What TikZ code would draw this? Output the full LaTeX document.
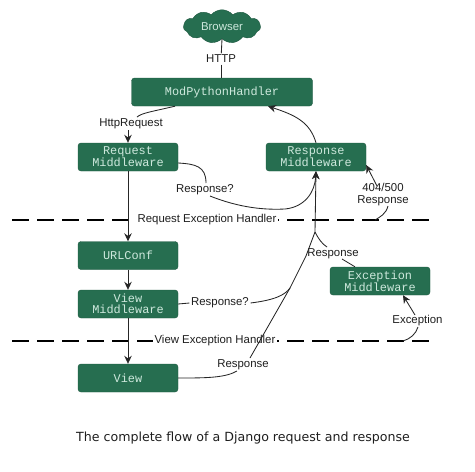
\documentclass[tikz,border=0pt]{standalone}
\usepackage{fontspec}
\setmainfont{Liberation Sans}
\setmonofont{Liberation Mono}
\newfontfamily\captionfont{DejaVu Sans}
\usetikzlibrary{arrows.meta, positioning, shapes.symbols}
\definecolor{boxgreen}{RGB}{38,110,80}
\definecolor{boxedge}{RGB}{30,88,64}
\definecolor{boxtext}{RGB}{205,232,220}
\definecolor{inktext}{RGB}{30,30,30}
\tikzset{
    mwbox/.style={draw=boxedge, fill=boxgreen, rounded corners=3pt, minimum width=100pt, minimum height=28pt, inner sep=0pt, align=center, text=boxtext, font=\ttfamily\fontsize{11.9}{10.8}\selectfont},
    flowlabel/.style={text=inktext, inner sep=1.5pt, fill=white, align=center, font=\fontsize{11.4}{12}\selectfont},
    flowline/.style={line width=0.85pt, color=black!85},
    flowarrow/.style={flowline, -{Stealth[length=8pt,width=7.5pt]}},
    dashline/.style={line width=1.8pt, dash pattern=on 17pt off 8pt}
}

\begin{document}
\begin{tikzpicture}[x=1pt, y=-1pt]
    \useasboundingbox (0,0) rectangle (475,472);

    % Exception handler borders
    \coordinate (reqdashl) at (12,220);
    \coordinate (reqdashr) at (430,220);
    \coordinate (viewdashl) at (12,341);
    \coordinate (viewdashr) at (430,341);
    \draw[dashline] (reqdashl) -- (reqdashr);
    \draw[dashline] (viewdashl) -- (viewdashr);
    \node[flowlabel] (reqhandler) at (207,220) {Request Exception Handler};
    \node[flowlabel] (viewhandler) at (215,341) {View Exception Handler};

    % Browser
    \node[cloud, cloud puffs=11, cloud puff arc=100, aspect=2.2, draw=boxedge, fill=boxgreen, text=boxtext, minimum width=77pt, minimum height=33pt, inner sep=0pt, font=\fontsize{11.4}{12}\selectfont] (browser) at (222,26.5) {Browser};

    % Boxes
    \node[mwbox, minimum width=181pt] (handler) at (222,92) {ModPythonHandler};
    \node[mwbox] (reqmw) at (128,157) {Request\\Middleware};
    \node[mwbox] (respmw) at (316,157) {Response\\Middleware};
    \node[mwbox] (urlconf) at (128,255.5) {URLConf};
    \node[mwbox] (viewmw) at (128,304) {View\\Middleware};
    \node[mwbox] (excmw) at (380,281) {Exception\\Middleware};
    \node[mwbox] (view) at (128,378) {View};

    % Labels
    \node[flowlabel] (http) at (221,59) {HTTP};
    \node[flowlabel] (httpreq) at (131,124) {HttpRequest};
    \node[flowlabel] (reqanswer) at (205,190) {Response?};
    \node[flowlabel] (errresp) at (383,195) {404/500\\Response};
    \node[flowlabel] (merged) at (333,253.5) {Response};
    \node[flowlabel] (viewanswer) at (220,303) {Response?};
    \node[flowlabel] (viewresp) at (243,365) {Response};
    \node[flowlabel] (exclabel) at (417.5,321) {Exception};

    % Joints where responses meet
    \coordinate (joint) at (315,232);
    \coordinate (fork) at (290,288);
    \coordinate (mergeleft) at (306,256);
    \coordinate (mergeright) at (327,247);
    \coordinate (mergeexc) at (342,259);
    \coordinate (reqbend) at (206,183);
    \coordinate (reqtail) at (210,196);
    \coordinate (viewhead) at (237,371);
    \coordinate (viewtail) at (250,358);
    \coordinate (httpin) at (137,117);
    \coordinate (httpout) at (128,130);
    \coordinate (errfrom) at (377,186);
    \coordinate (errtail) at (388,206);
    \coordinate (errend) at (375,220);
    \coordinate (excfrom) at (415,315);
    \coordinate (exctail) at (418,327);
    \coordinate (excend) at (403,341);

    % Top of the flow
    \draw[flowline] (browser.south) -- (http);
    \draw[flowline] (http) -- (handler.north -| http);
    \draw[flowline] ([xshift=-47pt]handler.south) .. controls (150,112) and (142,113) .. (httpin);
    \draw[flowarrow] (httpout) -- (reqmw.north);
    \draw[flowarrow] (respmw.north) .. controls (310,122) and (295,115) .. ([xshift=46pt]handler.south);

    % Request side
    \draw[flowarrow] (reqmw.south) -- (urlconf.north);
    \draw[flowarrow] (urlconf.south) -- (viewmw.north);
    \draw[flowarrow] (viewmw.south) -- (view.north);
    \draw[flowline] ([yshift=-6pt]reqmw.east) .. controls (195,164) and (206,166) .. (reqbend);
    \draw[flowarrow] (reqtail) .. controls (240,208) and (265,210) .. (285,209) .. controls (305,207) and (315,192) .. (respmw.south);

    % Response side
    \draw[flowarrow] (joint) -- (respmw.south);
    \draw[flowline] (joint) -- (mergeleft);
    \draw[flowline] (joint) .. controls (318,238) and (322,244) .. (mergeright);
    \draw[flowline] ([xshift=-25pt]excmw.north) -- (mergeexc);
    \draw[flowline] (viewmw.east) -- (viewanswer.west);
    \draw[flowline] (viewanswer.east) .. controls (275,300) and (285,295) .. (fork);
    \draw[flowline] (fork) -- (mergeleft);
    \draw[flowline] (view.east) .. controls (205,378) and (225,378) .. (viewhead);
    \draw[flowline] (viewtail) -- (fork);

    % Error responses
    \draw[flowarrow] (errfrom) -- ([yshift=-8pt]respmw.east);
    \draw[flowline] (errtail) .. controls (386,214) and (380,217) .. (errend);
    \draw[flowarrow] (excfrom) -- ([xshift=23pt]excmw.south);
    \draw[flowline] (exctail) .. controls (416,334) and (410,339) .. (excend);

    % Caption
    \node[inner sep=0pt, text=inktext, font=\captionfont\fontsize{12.6}{14}\selectfont] (caption) at (243,438.5) {The complete flow of a Django request and response};
\end{tikzpicture}
\end{document}
